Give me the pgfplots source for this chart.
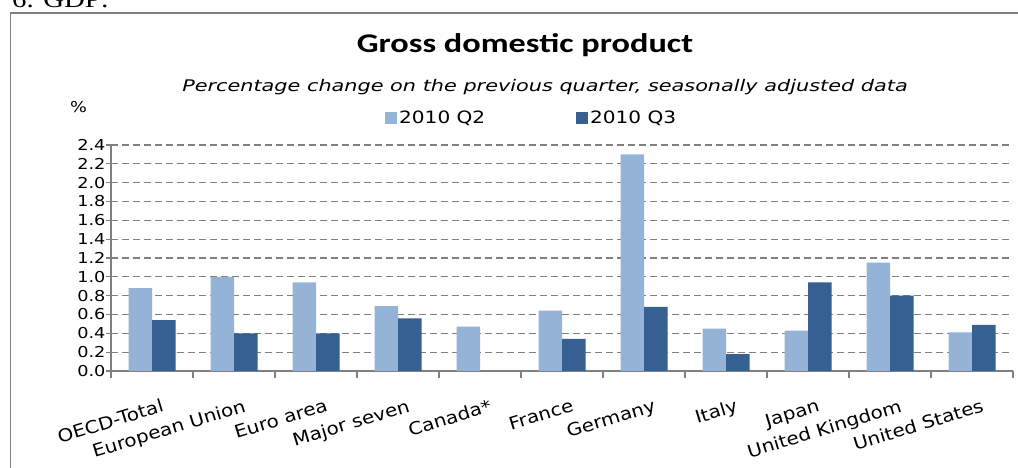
\documentclass[border=0pt]{standalone}
\usepackage{fontspec}
\usepackage{pgfplots}
\pgfplotsset{compat=1.18}
\newfontfamily\tickfont{DejaVu Sans}[FakeStretch=1.18]
\newfontfamily\xlabfont{DejaVu Sans}[FakeStretch=1.14]
\newfontfamily\subfont{DejaVu Sans Oblique}[FakeStretch=1.3]
\newfontfamily\titlefont{Carlito Bold}[FakeStretch=1.27]
\newfontfamily\serifont{Liberation Serif}[FakeStretch=1.2]
\definecolor{lightbar}{RGB}{149,179,215}
\definecolor{darkbar}{RGB}{54,96,146}
\definecolor{axgray}{RGB}{128,128,128}
\begin{document}
\begin{tikzpicture}[x=1pt,y=1pt]
\useasboundingbox (0,0) rectangle (1018,468);
\clip (0,0) rectangle (1018,468);
\fill[white] (0,0) rectangle (1018,468);
\node[anchor=base west, inner sep=0pt, font=\serifont\fontsize{24}{24}\selectfont] at (12,460) {6. GDP:};
\draw[axgray, line width=1.2pt] (10.5,-5) -- (10.5,455) -- (1030,455);
\node[anchor=base, inner sep=0pt, font=\titlefont\fontsize{27}{27}\selectfont] at (525,415) {Gross domestic product};
\node[anchor=base, inner sep=0pt, font=\subfont\fontsize{16}{16}\selectfont] at (545,376) {Percentage change on the previous quarter, seasonally adjusted data};
\node[anchor=base west, inner sep=0pt, font=\tickfont\fontsize{15}{15}\selectfont] at (70,355) {\%};
\begin{axis}[
  at={(111pt,97pt)}, anchor=south west,
  scale only axis, width=902pt, height=226pt,
  xmin=-0.5, xmax=10.5, ymin=0, ymax=2.4,
  ybar=0pt, bar width=23.5pt,
  axis x line*=bottom, axis y line*=left,
  axis line style={axgray, line width=1.3pt},
  tick align=outside,
  xtick={0,...,10},
  xticklabels={OECD-Total,European Union,Euro area,Major seven,Canada*,France,Germany,Italy,Japan,United Kingdom,United States},
  minor xtick={-0.5,0.5,...,10.5},
  major x tick style={draw=none},
  minor x tick style={axgray, line width=1.2pt},
  minor tick length=7pt,
  ytick={0,0.2,...,2.41},
  major tick length=5pt,
  major y tick style={axgray, line width=1.2pt},
  ymajorgrids,
  major grid style={axgray, line width=1.3pt, dash pattern=on 7pt off 4pt},
  /pgf/number format/assume math mode=true,
  yticklabel style={font=\tickfont\fontsize{15}{15}\selectfont, xshift=3pt, /pgf/number format/.cd, fixed, fixed zerofill, precision=1},
  xticklabel style={font=\xlabfont\fontsize{17.5}{17.5}\selectfont, rotate=17, anchor=north east, inner sep=0pt, yshift=-24pt, xshift=2pt},
  legend style={at={(0.3038,1.119)}, anchor=west, draw=none, fill=none, inner sep=0pt,
    font=\tickfont\fontsize{17}{17}\selectfont, legend columns=2,
    /tikz/every even column/.append style={column sep=89pt}},
  legend cell align=left,
  legend image code/.code={\fill[#1] (0pt,-6pt) rectangle (12pt,6pt);},
]
\addplot[fill=lightbar, draw=none] coordinates {(0,0.88) (1,1.00) (2,0.94) (3,0.69) (4,0.47) (5,0.64) (6,2.30) (7,0.45) (8,0.43) (9,1.15) (10,0.41)};
\addplot[fill=darkbar, draw=none] coordinates {(0,0.54) (1,0.40) (2,0.40) (3,0.56) (5,0.34) (6,0.68) (7,0.18) (8,0.94) (9,0.80) (10,0.49)};
\legend{2010 Q2,2010 Q3}
\end{axis}
\end{tikzpicture}
\end{document}
